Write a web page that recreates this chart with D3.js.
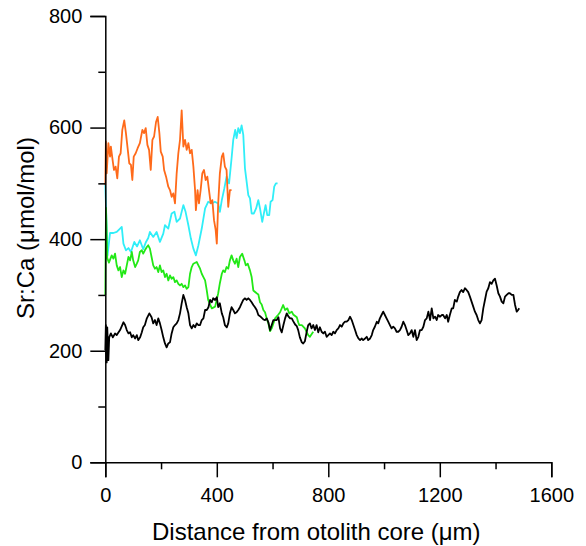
<!DOCTYPE html>
<html><head><meta charset="utf-8">
<script src="https://cdn.jsdelivr.net/npm/d3@7"></script>
<style>body{margin:0;background:#fff}text{font-family:"Liberation Sans",Arial,sans-serif;fill:#000}</style>
</head><body>
<svg id="c" width="586" height="546"></svg>
<script>
// ---- data (distance in µm, Sr:Ca in µmol/mol) ----
const xMajorTicks = [0, 400, 800, 1200, 1600];
const xMinorTicks = [200, 600, 1000, 1400];
const yMajorTicks = [0, 200, 400, 600, 800];
const yMinorTicks = [100, 300, 500, 700];

const orangeDist = [0,2,5,11,17,20,27,31,37,43,49,55,61,68,74,80,86,92,97,102,109,116,124,133,139,145,151,157,163,169,175,182,188,194,199,206,211,218,226,232,238,244,250,256,262,268,274,280,286,292,298,304,310,316,322,325,331,336,342,348,354,360,366,372,378,384,390,396,400,405,411,418,423,429,435,441,447,453];
const orangeVal = [497,575,518,572,548,566,539,524,530,509,548,554,596,613,590,563,536,533,506,548,554,563,572,596,590,599,569,560,524,578,584,610,619,590,557,548,524,512,494,488,476,482,464,518,554,578,631,566,578,560,572,554,560,530,488,452,488,464,488,518,524,506,512,488,464,470,434,416,392,464,518,548,554,530,524,458,488,488];

const cyanDist = [0,8,17,29,41,53,59,65,74,83,92,104,114,124,136,146,154,160,172,184,196,208,214,226,238,248,256,268,280,288,298,307,316,325,334,346,358,369,382,393,405,411,418,427,435,444,453,459,466,471,477,483,489,495,501,507,513,519,525,533,541,549,555,563,570,575,581,588,593,600,606,612,618];
const cyanVal = [497,371,411,411,413,419,422,392,380,384,377,395,387,398,382,395,402,413,404,413,395,410,425,419,446,449,431,437,461,449,425,401,383,371,389,419,455,467,464,467,464,449,470,491,512,500,545,578,596,581,599,590,604,587,527,503,479,473,446,446,455,470,455,431,449,461,443,443,467,470,494,500,500];

const greenDist = [0,2.5,7,13,23,29,35,41,47,53,59,65,71,77,83,89,95,100,107,113,118,124,131,136,142,149,154,160,166,172,178,184,190,196,202,208,214,220,226,232,238,244,250,256,262,268,274,280,286,292,298,304,310,316,328,334,340,346,352,358,364,369,382,394,405,411,418,423,429,435,441,447,453,459,465,471,477,483,491,499,504,511,519,525,531,543,549,555,561,567,573,579,585,591,597,603,609,621,627,638,645,653,660,669,674,687,692,696,705,716,728,734,746];
const greenVal = [300,456,366,358,371,365,374,353,344,350,332,344,338,353,368,362,377,362,350,356,362,377,380,374,380,386,389,383,368,353,347,350,341,353,341,344,332,338,326,335,329,332,323,326,320,317,320,314,317,311,314,338,350,356,359,353,347,338,332,326,308,291,276,279,303,321,338,344,341,350,347,362,371,362,356,365,350,368,374,362,353,356,344,332,308,303,301,287,283,273,269,258,249,235,240,249,258,265,269,282,273,276,267,270,265,260,251,246,246,240,228,225,234];

const blackDist = [0,2,5,7,11,14,20,27,35,41,
53,65,71,77,83,89,95,100,107,113,
118,125,131,136,142,149,158,166,172,178,
184,190,196,202,208,214,220,226,232,238,
244,250,256,262,268,274,280,286,292,298,
304,310,316,322,328,334,340,346,352,358,
364,370,376,382,387,394,400,405,411,418,
423,429,436,441,447,453,459,465,471,477,
483,489,495,501,507,513,519,525,531,537,
543,549,555,567,573,579,585,591,597,603,
609,615,621,627,633,639,645,651,656,663,
669,674,681,687,692,698,705,710,716,722,
728,734,740,746,752,758,764,770,776,782,
788,794,800,806,812,818,824,830,836,842,
848,854,860,866,872,878,884,890,896,902,
908,914,920,925,932,938,943,950,956,961,
967,974,979,985,991,997,1003,1009,1015,1021,
1027,1033,1039,1045,1051,1057,1063,1069,1075,1081,
1087,1093,1099,1105,1111,1117,1123,1129,1135,1141,
1147,1153,1159,1165,1171,1177,1183,1189,1194,1201,
1207,1212,1219,1225,1230,1236,1243,1248,1254,1261,
1266,1272,1278,1284,1290,1296,1302,1308,1314,1320,
1326,1332,1338,1344,1350,1356,1362,1368,1374,1380,
1386,1392,1398,1404,1410,1416,1422,1428,1434,1440,
1446,1452,1458,1464,1470,1476,1481,1485];
const blackVal = [201,246,179,242,183,224,231,224,231,228,
237,251,246,237,231,233,224,228,222,228,
219,224,233,242,246,258,267,260,249,255,
246,258,249,237,224,213,206,213,215,231,
242,246,249,255,267,285,300,291,278,267,
246,240,246,242,249,246,246,255,258,273,
273,278,291,287,294,291,296,278,285,267,
260,246,242,249,267,278,273,267,269,273,
278,285,291,294,291,294,291,287,282,278,
273,264,262,256,255,258,251,237,246,255,
255,255,260,240,233,246,258,267,262,258,
258,253,247,244,237,224,215,213,217,233,
246,249,240,246,237,246,233,242,234,231,
234,225,228,231,228,234,231,237,240,246,
243,249,252,252,255,261,255,246,237,228,
222,219,222,219,222,225,219,222,228,237,
243,252,249,258,264,270,264,258,252,246,
240,243,240,234,234,237,243,252,246,237,
228,231,237,225,237,219,225,237,237,243,
255,258,270,255,276,258,261,255,264,261,
264,264,258,264,252,264,276,276,291,288,
297,305,309,305,312,309,305,297,288,279,
270,264,255,249,255,276,291,306,312,323,
320,326,329,317,303,297,288,285,297,300,
303,303,300,300,282,270,273,276];

const seriesNames = ["cyan", "green", "orange", "black"];
const seriesColors = ["#30eef8", "#22e816", "#ff6a1a", "#000000"];

// ---- drawing ----
const svg = d3.select("#c");
const x = d3.scaleLinear().domain([0, 1600]).range([105.3, 551.3]);
const y = d3.scaleLinear().domain([0, 800]).range([462.3, 16]);

const table = {
  cyan: d3.zip(cyanDist, cyanVal),
  green: d3.zip(greenDist, greenVal),
  orange: d3.zip(orangeDist, orangeVal),
  black: d3.zip(blackDist, blackVal)
};
const line = d3.line().x(d => x(d[0])).y(d => y(d[1]));

seriesNames.forEach((name, i) => {
  svg.append("path")
    .datum(table[name])
    .attr("fill", "none")
    .attr("stroke", seriesColors[i])
    .attr("stroke-width", 1.8)
    .attr("stroke-linejoin", "round")
    .attr("d", line);
});

function styleAxis(g) {
  g.selectAll("path,line").attr("stroke", "#000").attr("stroke-width", 1.5);
  g.selectAll("text").attr("font-size", 20).attr("font-family", '"Liberation Sans",Arial,sans-serif').attr("fill", "#000");
}

// x axis
svg.append("g").attr("transform", `translate(0,${y(0)})`)
  .call(d3.axisBottom(x).tickValues(xMajorTicks).tickSize(15).tickPadding(11).tickFormat(d3.format("d")))
  .call(styleAxis);
svg.append("g").attr("transform", `translate(0,${y(0)})`)
  .call(d3.axisBottom(x).tickValues(xMinorTicks).tickSize(7).tickFormat(""))
  .call(g => g.select(".domain").remove())
  .call(styleAxis);

// y axis
svg.append("g").attr("transform", `translate(${x(0)},0)`)
  .call(d3.axisLeft(y).tickValues(yMajorTicks).tickSize(15).tickPadding(8).tickFormat(d3.format("d")))
  .call(styleAxis);
svg.append("g").attr("transform", `translate(${x(0)},0)`)
  .call(d3.axisLeft(y).tickValues(yMinorTicks).tickSize(7).tickFormat(""))
  .call(g => g.select(".domain").remove())
  .call(styleAxis);

// titles
svg.append("text")
  .attr("x", (x(0) + x(1600)) / 2 - 12)
  .attr("y", 540)
  .attr("text-anchor", "middle")
  .attr("font-size", 24)
  .text("Distance from otolith core (μm)");

svg.append("text")
  .attr("transform", `translate(34,${y(420)}) rotate(-90)`)
  .attr("text-anchor", "middle")
  .attr("font-size", 24)
  .text("Sr:Ca (μmol/mol)");
</script>
</body></html>
